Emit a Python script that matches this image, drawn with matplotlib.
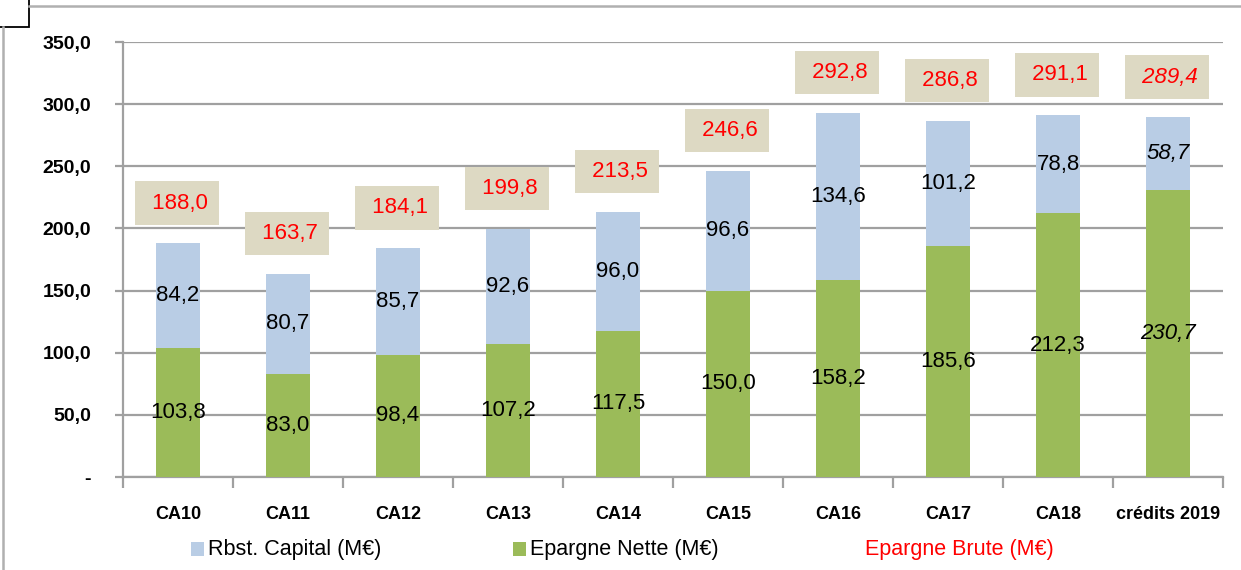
import matplotlib
matplotlib.use('Agg')
import matplotlib.pyplot as plt
from matplotlib.patches import Rectangle
from matplotlib.lines import Line2D

# Data
categories = ['CA10', 'CA11', 'CA12', 'CA13', 'CA14', 'CA15', 'CA16', 'CA17', 'CA18', 'crédits 2019']
epargne_nette = [103.8, 83.0, 98.4, 107.2, 117.5, 150.0, 158.2, 185.6, 212.3, 230.7]
rbst_capital = [84.2, 80.7, 85.7, 92.6, 96.0, 96.6, 134.6, 101.2, 78.8, 58.7]
epargne_brute = [188.0, 163.7, 184.1, 199.8, 213.5, 246.6, 292.8, 286.8, 291.1, 289.4]
y_ticks = [0, 50, 100, 150, 200, 250, 300, 350]
y_tick_labels = ['-', '50,0', '100,0', '150,0', '200,0', '250,0', '300,0', '350,0']

BLUE = '#B9CDE5'
GREEN = '#9BBB59'
BEIGE = '#DDD9C3'
RED = '#FF0000'
GRID = '#A0A0A0'
FONT = ['Liberation Sans', 'DejaVu Sans']


def fmt(v):
    return f'{v:.1f}'.replace('.', ',')


def main():
    W, H = 1241, 570
    fig = plt.figure(figsize=(W / 100, H / 100), dpi=100)
    ax = fig.add_axes([123 / W, 1 - 477 / H, 1100 / W, 435 / H])

    x = list(range(len(categories)))
    ax.bar(x, epargne_nette, width=0.4, color=GREEN, zorder=3)
    ax.bar(x, rbst_capital, width=0.4, bottom=epargne_nette, color=BLUE, zorder=3)

    ax.set_xlim(-0.5, len(categories) - 0.5)
    ax.set_ylim(0, 350)

    # Gridlines and axes styling
    ax.set_yticks(y_ticks)
    ax.set_yticklabels(y_tick_labels, family=FONT, fontweight='bold', fontsize=14)
    ax.yaxis.grid(True, color=GRID, linewidth=1.6, zorder=0)
    ax.tick_params(axis='y', length=6, width=1.6, color=GRID, pad=17)

    ax.set_xticks(x)
    ax.set_xticklabels(categories, family=FONT, fontweight='bold', fontsize=13)
    ax.set_xticks([i - 0.5 for i in range(len(categories) + 1)], minor=True)
    ax.tick_params(axis='x', which='major', length=0, pad=21)
    ax.tick_params(axis='x', which='minor', length=8, width=1.6, color=GRID)

    for side in ['top', 'right']:
        ax.spines[side].set_visible(False)
    ax.spines['left'].set_color(GRID)
    ax.spines['left'].set_linewidth(1.6)
    ax.spines['bottom'].set_color(GRID)
    ax.spines['bottom'].set_linewidth(1.6)

    # Segment and total labels
    last = len(categories) - 1
    for i in x:
        style = 'italic' if i == last else 'normal'
        ax.text(i, epargne_nette[i] / 2, fmt(epargne_nette[i]), ha='center', va='center',
                fontsize=16, family=FONT, style=style, color='black', zorder=4)
        ax.text(i, epargne_nette[i] + rbst_capital[i] / 2, fmt(rbst_capital[i]), ha='center',
                va='center', fontsize=16, family=FONT, style=style, color='black', zorder=4)
        top = epargne_nette[i] + rbst_capital[i]
        ax.annotate(' ' + fmt(epargne_brute[i]), xy=(i, top), xytext=(-1, 29),
                    textcoords='offset points', ha='center', va='center', fontsize=16,
                    family=FONT, style=style, color=RED, zorder=5,
                    bbox=dict(boxstyle='square,pad=0.5', facecolor=BEIGE, edgecolor='none'))

    # Legend drawn by hand
    def px(xp, yp):
        return xp / W, 1 - yp / H

    ly = 549
    fig.patches.append(Rectangle(px(191, ly + 7), 13 / W, 14 / H, facecolor=BLUE,
                                 edgecolor='none', transform=fig.transFigure))
    fig.text(*px(208, ly), 'Rbst. Capital (M€)', fontsize=15.5, family=FONT, va='center')
    fig.patches.append(Rectangle(px(513, ly + 7), 13 / W, 14 / H, facecolor=GREEN,
                                 edgecolor='none', transform=fig.transFigure))
    fig.text(*px(530, ly), 'Epargne Nette (M€)', fontsize=15.5, family=FONT, va='center')
    fig.text(*px(865, ly), 'Epargne Brute (M€)', fontsize=15.5, family=FONT, va='center',
             color=RED)

    # Outer frame fragments
    fig.add_artist(Line2D([29 / W, 1], [1 - 6 / H, 1 - 6 / H], color='#B0B0B0', linewidth=1.8,
                          transform=fig.transFigure))
    fig.add_artist(Line2D([3 / W, 3 / W], [0, 1 - 27 / H], color='#B0B0B0', linewidth=1.8,
                          transform=fig.transFigure))
    fig.add_artist(Rectangle(px(-2, 27), 31 / W, 29 / H, facecolor='white', edgecolor='black',
                             linewidth=1.3, transform=fig.transFigure))

    plt.savefig('out.png', dpi=100)


if __name__ == '__main__':
    main()
